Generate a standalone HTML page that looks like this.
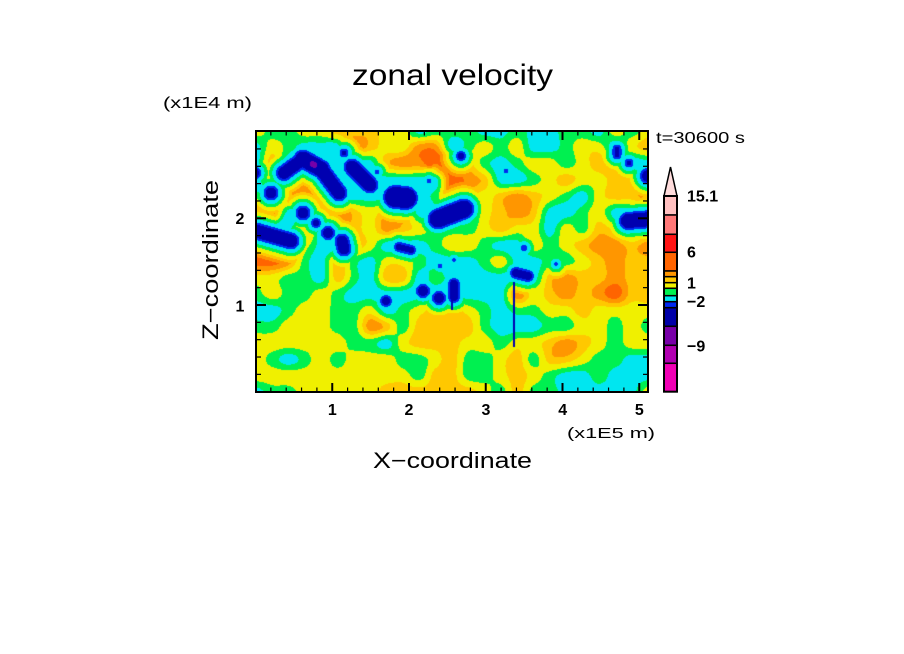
<!DOCTYPE html>
<html><head><meta charset="utf-8"><style>
html,body{margin:0;padding:0;background:#fff;width:904px;height:654px;overflow:hidden}
#c{position:absolute;left:256px;top:131px;width:392px;height:261px;background:#f0f000}
svg{position:absolute;left:0;top:0}
text{font-family:"Liberation Sans",sans-serif;fill:#000}
</style></head><body>
<canvas id="c" width="392" height="261"></canvas>
<svg id="s" width="904" height="654" viewBox="0 0 904 654">
<text x="352" y="85" font-size="30" textLength="201" lengthAdjust="spacingAndGlyphs">zonal velocity</text>
<text x="163" y="108" font-size="16" textLength="89" lengthAdjust="spacingAndGlyphs">(x1E4 m)</text>
<text x="656" y="143" font-size="16" textLength="89" lengthAdjust="spacingAndGlyphs">t=30600 s</text>
<g font-size="16" font-weight="bold" text-anchor="middle">
<text x="332.3" y="415">1</text>
<text x="409" y="415">2</text>
<text x="486" y="415">3</text>
<text x="562.7" y="415">4</text>
<text x="639.3" y="415">5</text>
<text x="240" y="224">2</text>
<text x="240" y="311.5">1</text>
</g>
<text x="567" y="438" font-size="15" textLength="88" lengthAdjust="spacingAndGlyphs">(x1E5 m)</text>
<text x="373" y="468" font-size="22" textLength="159" lengthAdjust="spacingAndGlyphs">X&#8722;coordinate</text>
<text transform="translate(218,340) rotate(-90)" x="0" y="0" font-size="22" textLength="160" lengthAdjust="spacingAndGlyphs">Z&#8722;coordinate</text>
<g stroke="#000" stroke-width="1.5">
<polygon points="664,196 677,196 670.5,167" fill="#ffdcdc"/>
<rect x="664" y="196" width="13" height="19" fill="#ffc0c0"/>
<rect x="664" y="215" width="13" height="19.3" fill="#ff7878"/>
<rect x="664" y="234.3" width="13" height="18" fill="#ff1414"/>
<rect x="664" y="252.3" width="13" height="18.7" fill="#ff6400"/>
<rect x="664" y="271" width="13" height="5.7" fill="#ff9600"/>
<rect x="664" y="276.7" width="13" height="6" fill="#ffc800"/>
<rect x="664" y="282.7" width="13" height="5.6" fill="#f0f000"/>
<rect x="664" y="288.3" width="13" height="7.4" fill="#00f050"/>
<rect x="664" y="295.7" width="13" height="6" fill="#00e6f0"/>
<rect x="664" y="301.7" width="13" height="6" fill="#0028f0"/>
<rect x="664" y="307.7" width="13" height="18.6" fill="#0000a8"/>
<rect x="664" y="326.3" width="13" height="19" fill="#7800a8"/>
<rect x="664" y="345.3" width="13" height="18" fill="#b000b0"/>
<rect x="664" y="363.3" width="13" height="28.4" fill="#f000b4"/>
<rect x="664" y="196" width="13" height="195.7" fill="none" stroke-width="2"/>
</g>
<g font-size="16" font-weight="bold">
<text x="687" y="201.5">15.1</text>
<text x="687" y="257.5">6</text>
<text x="687" y="288.5">1</text>
<text x="687" y="307">&#8722;2</text>
<text x="687" y="351.5">&#8722;9</text>
</g>
<g id="ticks" stroke="#000"></g>
<rect x="256" y="131" width="392" height="261" fill="none" stroke="#000" stroke-width="2"/>
</svg>
<script>
(function(){
var rows=[
"yggyyoooyycgggccgccggcygy",
"cygcccOoyyOOcgygyccgyycyo",
"coccccccoOOROogcgyygyoocc",
"cyoOccccccccROoccgyoyyooc",
"gcOROccccccgOoyoOoygcyooO",
"OOccORoyooccccyoOoccgyccc",
"cccOcyoyOoygggyoyycygoycg",
"OROyccoycccgyygccygyoOOoO",
"RROgcogcyygcccgyccggyoOoo",
"yyggcogcoocgccccccoOooOoo",
"gyggygccccccccccOyoOoORoo",
"ccgyyggycgyooygcggyyoyyyy",
"ggyyyggOogoooogcccggyygyg",
"yyyyyyggcyoooyygyyoOoygyy",
"ygcgygyyyggyoggyogooyggcc",
"yyyyyyyyyygooggyoygccgccc",
"cggyyyyyooooooygoggcccccy"];
var V={P:-4.8,B:-3.2,b:-2.0,c:-1.2,g:-0.4,y:0.5,o:1.3,O:2.0,R:2.9,r:3.8};
var NX=25,NY=17;
function G(i,j){if(i<0)i=0;if(i>NX-1)i=NX-1;if(j<0)j=0;if(j>NY-1)j=NY-1;return V[rows[j].charAt(i)];}
function cr(p0,p1,p2,p3,t){return 0.5*((2*p1)+(-p0+p2)*t+(2*p0-5*p1+4*p2-p3)*t*t+(-p0+3*p1-3*p2+p3)*t*t*t);}
/* [x1,y1,x2,y2,w,type] type 0=dark,1=blue,2=thin line */
var caps=[
[28,42,47,28,6,0],[47,28,65,38,7.5,0],[65,38,83,62,6.5,0],
[96,36,114,54,6.5,0],[139,66,150,67,10,0],[173,50,173,50,2,1],[121,41,121,41,2,1],
[182,88,208,78,8.5,0],[205,25,205,25,3,0],[88,22,88,22,2.5,0],
[0,100,35,110,6.5,0],[15,62,15,62,5.5,0],[-2,42,-2,42,5,0],
[47,82,47,82,5.5,0],[60,92,60,92,3,0],[72,102,72,102,5,0],[86,110,88,118,5.5,0],
[143,116,155,119,3,0],
[372,90,395,88,7,0],[361,18,361,24,2.5,0],[373,32,373,32,2.5,0],[392,45,394,45,6,0],[250,40,250,40,2,1],
[167,160,167,160,5,0],[183,167,183,167,5,0],[198,153,198,166,4,0],[130,170,130,170,4,0],
[268,117,268,117,3,1],[260,142,272,145,4,0],[300,133,300,133,1.5,1],[184,135,184,135,2,1],[198,129,198,129,1.5,1],
[258,152,258,215,1,2],[196,150,196,178,1,2]];
function segd(px,py,c){var dx=c[2]-c[0],dy=c[3]-c[1],L=dx*dx+dy*dy,t=L?((px-c[0])*dx+(py-c[1])*dy)/L:0;if(t<0)t=0;if(t>1)t=1;var ex=px-(c[0]+t*dx),ey=py-(c[1]+t*dy);return Math.sqrt(ex*ex+ey*ey);}
var blobs=[[57,33,-1.6,3],[173,33,1.3,2.5]];
var cv=document.getElementById('c'),ctx=cv.getContext('2d');
var W=392,H=261,img=ctx.createImageData(W,H),d=img.data;
var cols=[[-4.3,[120,0,168]],[-2.2,[0,0,176]],[-1.7,[0,40,240]],[-0.8,[0,230,240]],[0,[0,240,80]],[0.9,[240,240,0]],[1.6,[255,200,0]],[2.4,[255,150,0]],[3.4,[255,100,0]],[99,[255,20,20]]];
var K=0.25;
for(var y=0;y<H;y++){
 var gy=(y+0.5)/H*(NY-1),j=Math.floor(gy),ty=gy-j;
 for(var x=0;x<W;x++){
  var gx=(x+0.5)/W*(NX-1),i=Math.floor(gx),tx=gx-i;
  var a=[];
  for(var m=-1;m<=2;m++){a.push(cr(G(i-1,j+m),G(i,j+m),G(i+1,j+m),G(i+2,j+m),tx));}
  var v=cr(a[0],a[1],a[2],a[3],ty);
  var n1=G(i,j),n2=G(i+1,j),n3=G(i,j+1),n4=G(i+1,j+1);
  var mn=Math.min(n1,n2,n3,n4),mx=Math.max(n1,n2,n3,n4);
  if(v<mn)v=mn;if(v>mx)v=mx;
  for(var k=0;k<caps.length;k++){
   var cp=caps[k],ds=segd(x+0.5,y+0.5,cp),w=cp[4],t=cp[5],f;
   if(t==0){f=-2.2+K*(ds-w);if(f<-3.6)f=-3.6;}
   else if(t==1){f=-1.75+K*(ds-w);if(f<-2.0)f=-2.0;}
   else{f=ds<w?-3.0:99;}
   if(f<v)v=f;
  }
  for(var k=0;k<blobs.length;k++){var bb=blobs[k],dx=x-bb[0],dy=y-bb[1];v+=bb[2]*Math.exp(-(dx*dx+dy*dy)/(2*bb[3]*bb[3]));}
  var c=cols[cols.length-1][1];
  for(var q=0;q<cols.length;q++){if(v<cols[q][0]){c=cols[q][1];break;}}
  var p=(y*W+x)*4;d[p]=c[0];d[p+1]=c[1];d[p+2]=c[2];d[p+3]=255;
 }
}
ctx.putImageData(img,0,0);
var g=document.getElementById('ticks'),NS='http://www.w3.org/2000/svg';
function L(x1,y1,x2,y2,w){var l=document.createElementNS(NS,'line');l.setAttribute('x1',x1);l.setAttribute('y1',y1);l.setAttribute('x2',x2);l.setAttribute('y2',y2);l.setAttribute('stroke-width',w);g.appendChild(l);}
for(var k=1;k<=25;k++){
 var X=255.5+k*15.35,maj=(k%5==0),len=maj?9:4.5,w=maj?2:1.2;
 L(X,392,X,392-len,w);L(X,131,X,131+len,w);
}
for(var k=1;k<=14;k++){
 var Y=391.7-k*17.34,maj=(k%5==0),len=maj?10:5,w=maj?2:1.2;
 L(256,Y,256+len,Y,w);L(648,Y,648-len,Y,w);
}
})();
</script>
</body></html>
